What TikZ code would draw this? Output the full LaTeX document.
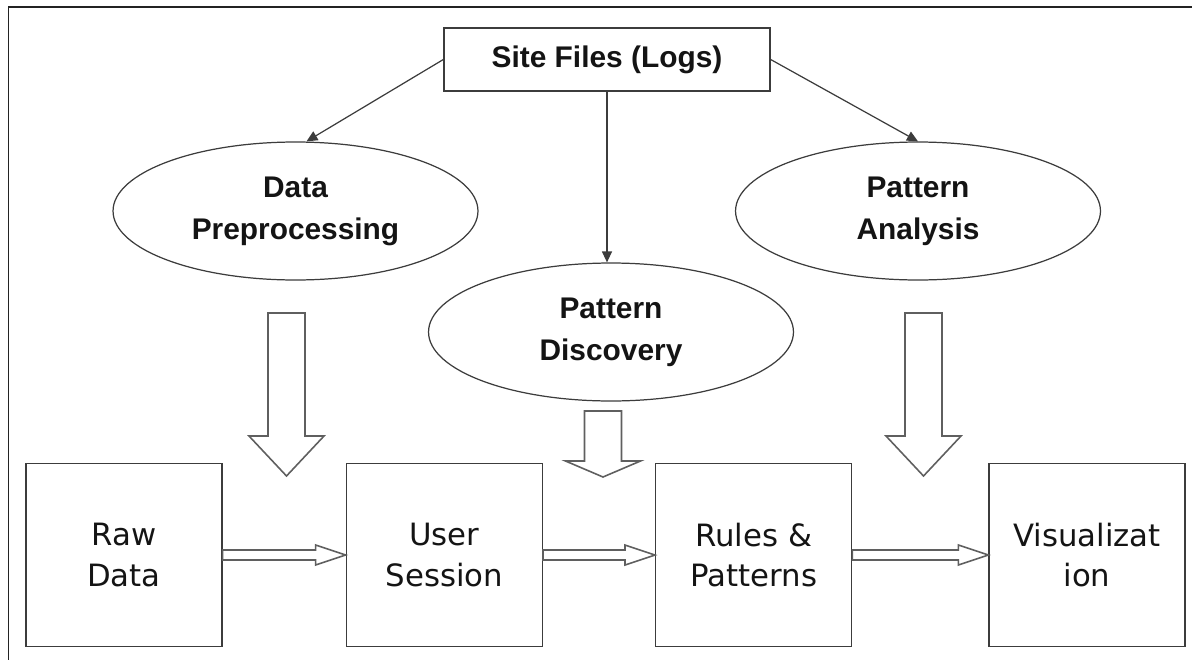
\documentclass[tikz,border=0pt]{standalone}
\usepackage{fontspec}
\setmainfont{Liberation Sans}
\newfontfamily\boxfont{DejaVu Sans}
\usepackage{tikz}
\usetikzlibrary{positioning, arrows.meta, shapes.geometric, calc}
\definecolor{LineGray}{RGB}{60,60,60}
\definecolor{FrameGray}{RGB}{35,35,35}
\definecolor{ArrowGray}{RGB}{95,95,95}
\definecolor{TextBlack}{RGB}{20,20,20}

\tikzset{
  source/.style={draw=LineGray, line width=0.8pt, rectangle, minimum width=6.52cm, minimum height=1.26cm,
    inner sep=0pt, text=TextBlack, font=\fontsize{17}{24}\selectfont\bfseries},
  stage/.style={draw=LineGray, line width=0.7pt, ellipse, minimum width=7.3cm, minimum height=2.76cm,
    inner sep=0pt, align=center, text=TextBlack, font=\fontsize{17}{24}\selectfont\bfseries},
  result/.style={draw=LineGray, line width=0.8pt, rectangle, minimum width=3.92cm, minimum height=3.66cm,
    inner sep=0pt, align=center, text=TextBlack, font=\boxfont\fontsize{17.5}{23}\selectfont},
  flow/.style={draw=LineGray, line width=0.7pt, -{Triangle[length=2.2mm, width=2mm]}},
  hollowarrow/.style={draw=ArrowGray, line width=0.9pt, fill=white, line join=miter}
}

\begin{document}
\begin{tikzpicture}[x=0.02cm, y=-0.02cm]
  \useasboundingbox (0,0) rectangle (1192,659);
  \draw[line width=1.1pt, FrameGray] (8.5,700) -- (8.5,7) -- (1250,7);

  % top part
  \node[source] (site) at (607,59.5) {Site Files (Logs)};
  \node[stage] (prep) at (295.5,211) {Data\\Preprocessing};
  \node[stage] (disc) at (611,332) {Pattern\\Discovery};
  \node[stage] (anal) at (918,211) {Pattern\\Analysis};

  \draw[flow] (site.west) -- ([xshift=0.22cm]prep.north);
  \draw[flow] (site.south) -- (site.south |- disc.north);
  \draw[flow] (site.east) -- (anal.north);

  % bottom row
  \node[result] (raw) at (124,555) {Raw\\Data};
  \node[result, right=2.46cm of raw] (user) {User\\Session};
  \node[result, right=2.24cm of user] (rules) {Rules \&\\Patterns};
  \node[result, right=2.72cm of rules] (vis) {Visualizat\\ion};

  \foreach \a/\b in {raw/user, user/rules, rules/vis}
  {
    \draw[hollowarrow] ($(\a.east)+(0,-5)$) -- ($(\b.west)+(-30,-5)$) -- ($(\b.west)+(-30,-10)$)
      -- (\b.west) -- ($(\b.west)+(-30,10)$) -- ($(\b.west)+(-30,5)$) -- ($(\a.east)+(0,5)$) -- cycle;
  }

  % big arrows down
  \foreach \x/\ya/\yb/\yc in {286.5/313/436/476, 603/411/461/477, 923.5/313/436/476}
  {
    \draw[hollowarrow] (\x-18.5,\ya) -- (\x+18.5,\ya) -- (\x+18.5,\yb) -- (\x+37.5,\yb)
      -- (\x,\yc) -- (\x-37.5,\yb) -- (\x-18.5,\yb) -- cycle;
  }
\end{tikzpicture}
\end{document}
